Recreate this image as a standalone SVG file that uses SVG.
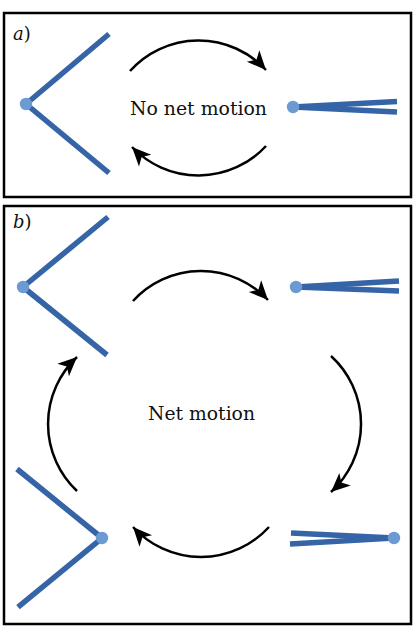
<svg xmlns="http://www.w3.org/2000/svg" width="416" height="637" viewBox="0 0 416 637">
<style>
.frame{fill:#fff;stroke:#000;stroke-width:2.5}
.rod{stroke:#3565a7;stroke-width:5.5;fill:none}
.dot{fill:#6b9bd2}
.arc{fill:none;stroke:#000;stroke-width:2.5}
.lbl{font-family:"DejaVu Serif","Liberation Serif",serif;font-size:19px;fill:#111}
.tag{font-family:"DejaVu Serif","Liberation Serif",serif;font-size:18px;fill:#111}
</style>
<defs>
<marker id="ah" markerUnits="userSpaceOnUse" markerWidth="22" markerHeight="20" viewBox="-20 -10 22 20" refX="0" refY="0" orient="auto">
<path d="M0,0 L-19,-8.5 L-14,0 L-19,8.5 Z" fill="#000"/>
</marker>
</defs>
<rect width="416" height="637" fill="#fff"/>
<g id="panel-a">
<rect class="frame" x="4" y="13" width="407" height="184"/>
<text class="tag" x="13" y="40"><tspan font-style="italic">a</tspan>)</text>
<text class="lbl" x="130" y="115" textLength="137" lengthAdjust="spacingAndGlyphs">No net motion</text>
</g>
<g id="a-open">
<line class="rod" x1="26" y1="104" x2="109" y2="34"/>
<line class="rod" x1="26" y1="104" x2="109" y2="173"/>
<circle class="dot" cx="26" cy="104" r="6.2"/>
</g>
<g id="a-closed">
<line class="rod" x1="293" y1="107" x2="397" y2="101.5"/>
<line class="rod" x1="293" y1="107" x2="397" y2="112"/>
<circle class="dot" cx="293" cy="107" r="6.2"/>
</g>
<g id="panel-b">
<rect class="frame" x="4" y="206" width="407" height="418"/>
<text class="tag" x="13" y="228"><tspan font-style="italic">b</tspan>)</text>
<text class="lbl" x="148" y="420" textLength="107" lengthAdjust="spacingAndGlyphs">Net motion</text>
</g>
<g id="b-open-left">
<line class="rod" x1="23" y1="287" x2="108" y2="217"/>
<line class="rod" x1="23" y1="287" x2="107" y2="355"/>
<circle class="dot" cx="23" cy="287" r="6.2"/>
</g>
<g id="b-closed-right">
<line class="rod" x1="296" y1="287" x2="399" y2="281"/>
<line class="rod" x1="296" y1="287" x2="399" y2="291"/>
<circle class="dot" cx="296" cy="287" r="6.2"/>
</g>
<g id="b-closed-left">
<line class="rod" x1="394" y1="538" x2="291" y2="533"/>
<line class="rod" x1="394" y1="538" x2="290" y2="544"/>
<circle class="dot" cx="394" cy="538" r="6.2"/>
</g>
<g id="b-open-right">
<line class="rod" x1="102" y1="538" x2="17" y2="469"/>
<line class="rod" x1="102" y1="538" x2="18" y2="607"/>
<circle class="dot" cx="102" cy="538" r="6.2"/>
</g>
<g id="connectors">
<path class="arc" d="M130,71 A92,92 0 0 1 266,70" marker-end="url(#ah)"/>
<path class="arc" d="M266,146 A92,92 0 0 1 132,147" marker-end="url(#ah)"/>
<path class="arc" d="M133,301 A92,92 0 0 1 268,300" marker-end="url(#ah)"/>
<path class="arc" d="M331,356 A92,92 0 0 1 331,492" marker-end="url(#ah)"/>
<path class="arc" d="M269,527 A92,92 0 0 1 133,527" marker-end="url(#ah)"/>
<path class="arc" d="M77,491 A92,92 0 0 1 77,357" marker-end="url(#ah)"/>
</g>
</svg>
